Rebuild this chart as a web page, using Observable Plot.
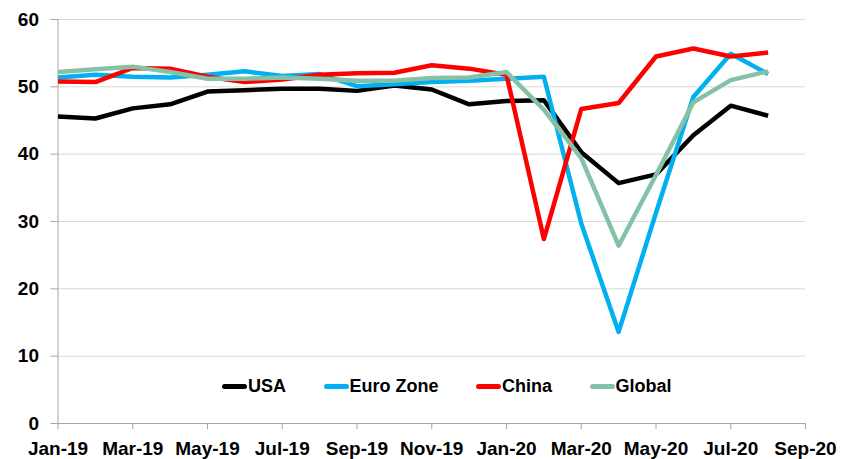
<!DOCTYPE html>
<html>
<head>
<meta charset="utf-8">
<script src="https://cdn.jsdelivr.net/npm/d3@7"></script>
<script src="https://cdn.jsdelivr.net/npm/@observablehq/plot@0.6"></script>
<style>
  html, body { margin: 0; padding: 0; background: #fff; }
  #wrap { position: relative; width: 848px; height: 459px; }
  #legend {
    position: absolute; left: 222px; top: 376px; height: 21px;
    display: flex; align-items: center; gap: 37.5px;
    font-family: "Liberation Sans", Arial, sans-serif; font-weight: bold; font-size: 18px; color: #000;
  }
  .item { display: flex; align-items: center; }
  .swatch { width: 25px; height: 4.5px; border-radius: 2.5px; margin-right: 1px; }
</style>
</head>
<body>
<div id="wrap"></div>
<script>
const months = ["Jan-19","Feb-19","Mar-19","Apr-19","May-19","Jun-19","Jul-19","Aug-19","Sep-19","Oct-19","Nov-19","Dec-19",
                "Jan-20","Feb-20","Mar-20","Apr-20","May-20","Jun-20","Jul-20","Aug-20"];
const tickLabels = ["Jan-19","Mar-19","May-19","Jul-19","Sep-19","Nov-19","Jan-20","Mar-20","May-20","Jul-20","Sep-20"];
const usa    = [45.6, 45.3, 46.8, 47.4, 49.3, 49.5, 49.7, 49.7, 49.4, 50.2, 49.6, 47.4, 47.9, 48.0, 40.3, 35.7, 37.0, 42.8, 47.2, 45.7];
const euro   = [51.4, 51.8, 51.5, 51.4, 51.8, 52.3, 51.6, 51.9, 50.1, 50.4, 50.7, 50.9, 51.2, 51.5, 29.7, 13.6, 31.3, 48.5, 54.9, 51.9];
const china  = [50.8, 50.7, 52.8, 52.7, 51.5, 50.7, 51.1, 51.8, 52.0, 52.1, 53.2, 52.7, 51.8, 27.4, 46.7, 47.6, 54.5, 55.7, 54.5, 55.1];
const global = [52.2, 52.6, 53.0, 52.2, 51.2, 51.2, 51.4, 51.2, 50.9, 50.9, 51.3, 51.4, 52.2, 46.6, 39.4, 26.4, 36.9, 47.7, 51.0, 52.3];
const seriesNames = ["USA", "Euro Zone", "China", "Global"];
const seriesColors = ["#000000", "#00B0F0", "#FF0000", "#85C1A6"];
const seriesValues = [usa, euro, china, global];

const rows = seriesNames.map((name, s) => months.map((m, i) => ({series: name, i, value: seriesValues[s][i]})));
const tickIdx = tickLabels.map((_, k) => k * 2);
const yTicks = [0, 10, 20, 30, 40, 50, 60];

const chart = Plot.plot({
  width: 848, height: 459,
  marginLeft: 57.5, marginRight: 43, marginTop: 19, marginBottom: 36,
  style: {fontFamily: '"Liberation Sans Narrow", "Liberation Sans", Arial, sans-serif', fontSize: "19px", fontWeight: "bold", color: "#000", background: "#fff"},
  x: {type: "linear", domain: [0, 20]},
  y: {domain: [0, 60]},
  marks: [
    Plot.gridY(yTicks.slice(1), {stroke: "#d9d9d9", strokeOpacity: 1, strokeWidth: 1}),
    Plot.axisY(yTicks, {tickSize: 7, tickPadding: 12, stroke: "#a6a6a6", fill: "#000", label: null, tickFormat: d => d}),
    Plot.axisX(tickIdx, {tickSize: 6, tickPadding: 12, stroke: "#a6a6a6", fill: "#000", label: null, tickFormat: d => tickLabels[d / 2]}),
    Plot.ruleX([0], {stroke: "#a6a6a6", strokeWidth: 1}),
    Plot.ruleY([0], {stroke: "#a6a6a6", strokeWidth: 1}),
    ...rows.map((data, s) => Plot.lineY(data, {x: "i", y: "value", stroke: seriesColors[s], strokeWidth: 4.5, strokeLinejoin: "round", strokeLinecap: "butt"}))
  ]
});

const wrap = document.getElementById("wrap");
wrap.appendChild(chart);
const legend = document.createElement("div");
legend.id = "legend";
seriesNames.forEach((name, s) => {
  const item = document.createElement("div");
  item.className = "item";
  const sw = document.createElement("span");
  sw.className = "swatch";
  sw.style.background = seriesColors[s];
  const t = document.createElement("span");
  t.textContent = name;
  item.appendChild(sw); item.appendChild(t);
  legend.appendChild(item);
});
wrap.appendChild(legend);
</script>
</body>
</html>
